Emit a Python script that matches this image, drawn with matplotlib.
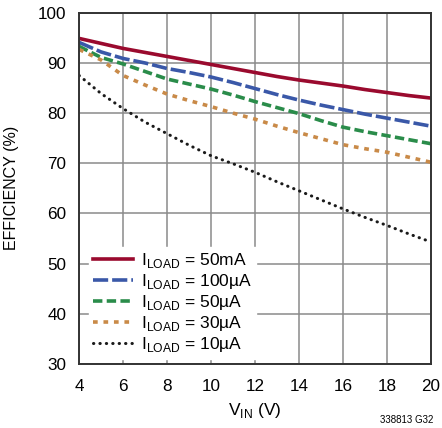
import numpy as np
import matplotlib
matplotlib.use("Agg")
import matplotlib.pyplot as plt

plt.rcParams['font.family'] = ['Liberation Sans', 'DejaVu Sans']
plt.rcParams['mathtext.fontset'] = 'custom'
plt.rcParams['mathtext.rm'] = 'Liberation Sans'

# data
vin = [4, 5, 6, 7, 8, 9, 10, 11, 12, 13, 14, 15, 16, 17, 18, 19, 20]
eff_50mA = [94.9, 93.9, 92.9, 92.1, 91.3, 90.5, 89.7, 88.9, 88.1, 87.3, 86.6, 86.0, 85.4, 84.7, 84.1, 83.5, 83.0]
eff_100uA = [94.1, 92.2, 90.9, 90.0, 88.9, 88.1, 87.2, 86.1, 84.9, 83.7, 82.6, 81.6, 80.7, 79.8, 79.0, 78.2, 77.4]
eff_50uA = [93.3, 91.1, 89.8, 88.3, 86.8, 85.8, 84.8, 83.6, 82.3, 81.1, 79.9, 78.5, 77.2, 76.3, 75.5, 74.7, 73.9]
eff_30uA = [92.7, 90.6, 87.5, 85.6, 83.8, 82.5, 81.3, 80.0, 78.8, 77.4, 76.1, 74.9, 73.7, 72.9, 72.2, 71.2, 70.2]
eff_10uA = [87.5, 83.9, 80.9, 78.2, 75.9, 73.6, 71.5, 69.9, 68.2, 66.3, 64.5, 62.7, 60.9, 59.2, 57.6, 55.9, 54.3]

labels = ["I$_\\mathregular{LOAD}$ = 50mA",
          "I$_\\mathregular{LOAD}$ = 100µA",
          "I$_\\mathregular{LOAD}$ = 50µA",
          "I$_\\mathregular{LOAD}$ = 30µA",
          "I$_\\mathregular{LOAD}$ = 10µA"]

fig = plt.figure(figsize=(4.42, 4.28), dpi=100)
ax = fig.add_axes([0.179, 0.150, 0.796, 0.820])

ax.plot(vin, eff_50mA, color="#9a0a2e", lw=2.6, label=labels[0])
ax.plot(vin, eff_100uA, color="#3a58a8", lw=2.6, dashes=(4.2, 1.1), label=labels[1])
ax.plot(vin, eff_50uA, color="#2a8c4a", lw=2.6, dashes=(2.6, 1.2), label=labels[2])
ax.plot(vin, eff_30uA, color="#c98a48", lw=2.6, dashes=(1.3, 1.6), label=labels[3])
ax.plot(vin, eff_10uA, color="#1a1a1a", lw=2.2, linestyle=(0, (0.1, 2.0)),
        dash_capstyle="round", label=labels[4])

ax.set_xlim(4, 20)
ax.set_ylim(30, 100)
ax.set_xticks(np.arange(4, 21, 2))
ax.set_yticks(np.arange(30, 101, 10))
ax.grid(True, color="#8a8a8a", lw=1.1)
ax.set_axisbelow(True)
ax.tick_params(length=0, labelsize=12.3)
ax.tick_params(axis='x', pad=11)
ax.tick_params(axis='y', pad=9)
for s in ax.spines.values():
    s.set_color("#333333")
    s.set_linewidth(1.4)

ax.set_ylabel("EFFICIENCY (%)", fontsize=11.5, labelpad=14)
ax.set_xlabel("V$_\\mathregular{IN}$ (V)", fontsize=12.5, labelpad=5)

leg = ax.legend(loc="lower left", bbox_to_anchor=(0.012, 0.0), fontsize=12.5,
                frameon=True, fancybox=False, framealpha=1, edgecolor="white",
                handlelength=2.3, handletextpad=0.45, labelspacing=0.12,
                borderpad=0.25, borderaxespad=0.3)

fig.text(0.98, 0.006, "338813 G32", fontsize=7, ha="right", va="bottom")

fig.savefig("out.png", dpi=100)
